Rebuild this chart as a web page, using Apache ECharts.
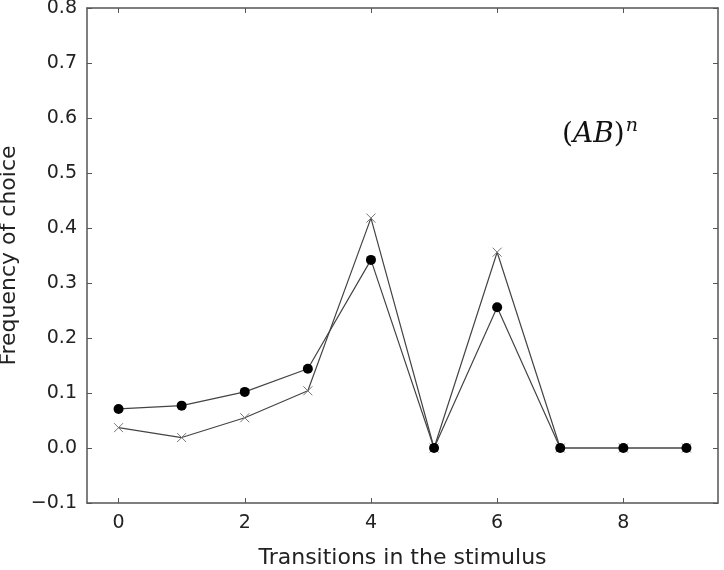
<!DOCTYPE html>
<html>
<head>
<meta charset="utf-8">
<script src="https://cdn.jsdelivr.net/npm/echarts@6/dist/echarts.min.js"></script>
<style>
  html, body { margin: 0; padding: 0; background: #fff; }
  #chart { width: 724px; height: 570px; }
</style>
</head>
<body>
<div id="chart"></div>
<script>
// transitions 0..9
const transitions = [0, 1, 2, 3, 4, 5, 6, 7, 8, 9]
// filled dots
const dotValues = [0.071, 0.077, 0.102, 0.144, 0.342, 0.0, 0.256, 0.0, 0.0, 0.0]
// crosses
const crossValues = [0.037, 0.019, 0.055, 0.104, 0.418, 0.0, 0.356, 0.0, 0.0, 0.0]
const xTicks = [0, 2, 4, 6, 8]

const font = 'DejaVu Sans'
const frameColor = '#555'

const chart = echarts.init(document.getElementById('chart'))

const pairs = (vals) => transitions.map((t, i) => [t, vals[i]])

const option = {
    animation: false,
    backgroundColor: '#fff',
    grid: { left: 87, right: 6, top: 8, bottom: 67, outerBoundsMode: 'none', containLabel: false },
    xAxis: [
        {
            type: 'value',
            min: -0.5,
            max: 9.5,
            name: 'Transitions in the stimulus',
            nameLocation: 'middle',
            nameGap: 44,
            nameTextStyle: { fontFamily: font, fontSize: 22, color: '#222' },
            axisLine: { show: true, onZero: false, lineStyle: { color: frameColor, width: 1.5 } },
            axisTick: { show: true, inside: true, length: 5, customValues: xTicks, lineStyle: { color: frameColor } },
            axisLabel: { customValues: xTicks, margin: 11, fontFamily: font, fontSize: 19, color: '#222' },
            splitLine: { show: false }
        },
        {
            type: 'value',
            position: 'top',
            min: -0.5,
            max: 9.5,
            axisLine: { show: true, onZero: false, lineStyle: { color: frameColor, width: 1.5 } },
            axisTick: { show: true, inside: true, length: 5, customValues: xTicks, lineStyle: { color: frameColor } },
            axisLabel: { show: false },
            splitLine: { show: false }
        }
    ],
    yAxis: [
        {
            type: 'value',
            min: -0.1,
            max: 0.8,
            interval: 0.1,
            name: 'Frequency of choice',
            nameLocation: 'middle',
            nameGap: 62,
            nameTextStyle: { fontFamily: font, fontSize: 22, color: '#222' },
            axisLine: { show: true, onZero: false, lineStyle: { color: frameColor, width: 1.5 } },
            axisTick: { show: true, inside: true, length: 5, lineStyle: { color: frameColor } },
            axisLabel: {
                margin: 10,
                fontFamily: font,
                fontSize: 19,
                color: '#222',
                formatter: v => (v < 0 ? '\u2212' : '') + Math.abs(v).toFixed(1)
            },
            splitLine: { show: false }
        },
        {
            type: 'value',
            position: 'right',
            min: -0.1,
            max: 0.8,
            interval: 0.1,
            axisLine: { show: true, onZero: false, lineStyle: { color: frameColor, width: 1.5 } },
            axisTick: { show: true, inside: true, length: 5, lineStyle: { color: frameColor } },
            axisLabel: { show: false },
            splitLine: { show: false }
        }
    ],
    graphic: [
        {
            type: 'text',
            left: 562,
            top: 117,
            style: {
                text: '{p|(}{i|AB}{p|)}{s|n}',
                rich: {
                    p: { fontFamily: 'DejaVu Serif', fontSize: 28, fill: '#111' },
                    i: { fontFamily: 'DejaVu Serif', fontStyle: 'italic', fontSize: 28, fill: '#111' },
                    s: { fontFamily: 'DejaVu Serif', fontStyle: 'italic', fontSize: 19, fill: '#111', verticalAlign: 'top', padding: [0, 0, 16, 1] }
                }
            }
        }
    ],
    series: [
        {
            name: 'cross',
            type: 'line',
            data: pairs(crossValues),
            symbol: 'path://M0,0L10,10M10,0L0,10',
            symbolSize: 9,
            itemStyle: { color: 'none', borderColor: '#777', borderWidth: 1 },
            lineStyle: { color: '#444', width: 1.2 },
            z: 2
        },
        {
            name: 'dot',
            type: 'line',
            data: pairs(dotValues),
            symbol: 'circle',
            symbolSize: 10,
            itemStyle: { color: '#000', borderWidth: 0 },
            lineStyle: { color: '#444', width: 1.2 },
            z: 3
        }
    ]
}

chart.setOption(option)
</script>
</body>
</html>
